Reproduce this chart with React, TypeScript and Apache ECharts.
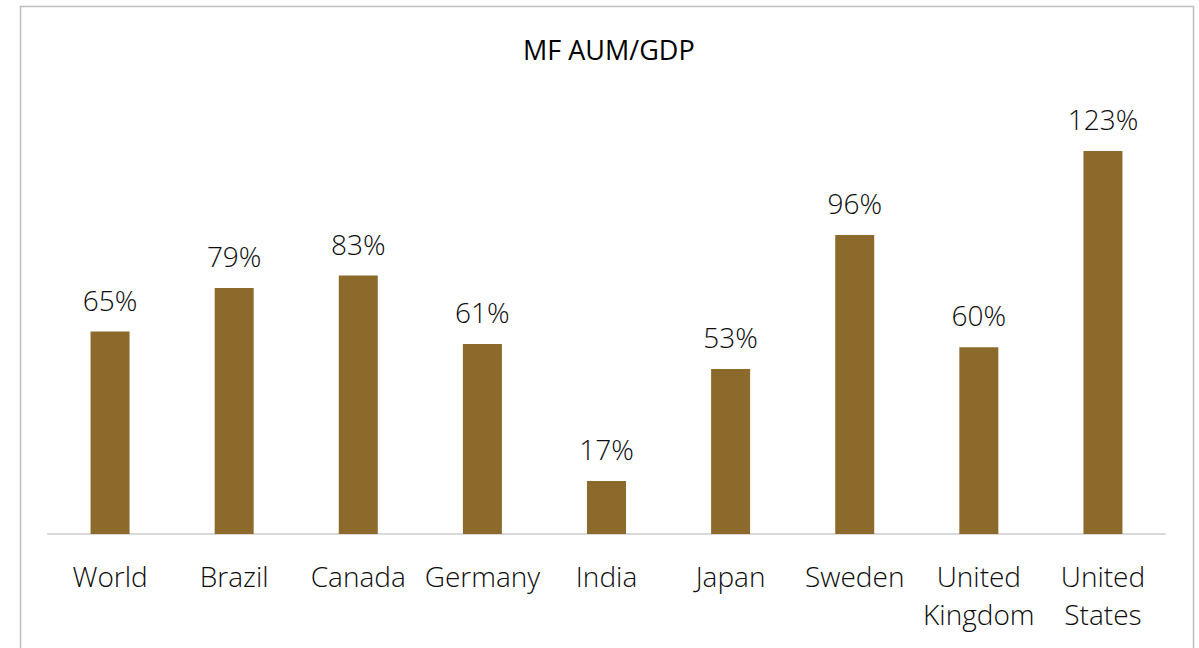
import React, { useEffect, useRef } from "react";
import * as echarts from "echarts";

const categories = ["World", "Brazil", "Canada", "Germany", "India", "Japan", "Sweden", "United\nKingdom", "United\nStates"];
const values = [65, 79, 83, 61, 17, 53, 96, 60, 123];
const chartTitle = "MF AUM/GDP";

export default function App() {
  const ref = useRef<HTMLDivElement>(null);
  useEffect(() => {
    const chart = echarts.init(ref.current!, null, { renderer: "svg" });
    chart.setOption({
      animation: false,
      backgroundColor: "#ffffff",
      title: {
        text: chartTitle,
        left: 518,
        top: 31,
        textStyle: { fontFamily: "Open Sans", fontSize: 27, fontWeight: "normal", color: "#000000" },
      },
      graphic: [
        {
          type: "rect",
          shape: { x: 20.5, y: 6.5, width: 1173, height: 700 },
          style: { fill: "none", stroke: "#bfbfbf", lineWidth: 1.5 },
          silent: true,
        },
      ],
      grid: { left: 48, right: 34, top: 98, bottom: 114, containLabel: false },
      xAxis: {
        type: "category",
        data: categories,
        axisLine: { show: true, lineStyle: { color: "#d9d9d9", width: 2 } },
        axisTick: { show: false },
        axisLabel: {
          interval: 0,
          color: "#0d0d0d",
          fontFamily: "Open Sans",
          fontWeight: 300,
          fontSize: 28,
          lineHeight: 38,
          margin: 23,
        },
      },
      yAxis: {
        type: "value",
        min: 0,
        max: 140,
        show: false,
        splitLine: { show: false },
      },
      series: [
        {
          type: "bar",
          data: values,
          barWidth: 39,
          itemStyle: { color: "#8c6a2c" },
          label: {
            show: true,
            position: "top",
            distance: 18,
            formatter: "{c}%",
            color: "#0d0d0d",
            fontFamily: "Open Sans",
            fontWeight: 300,
            fontSize: 28,
          },
        },
      ],
    });
    return () => chart.dispose();
  }, []);
  return <div ref={ref} style={{ position: "fixed", left: 0, top: 0, width: 1199, height: 648 }} />;
}
